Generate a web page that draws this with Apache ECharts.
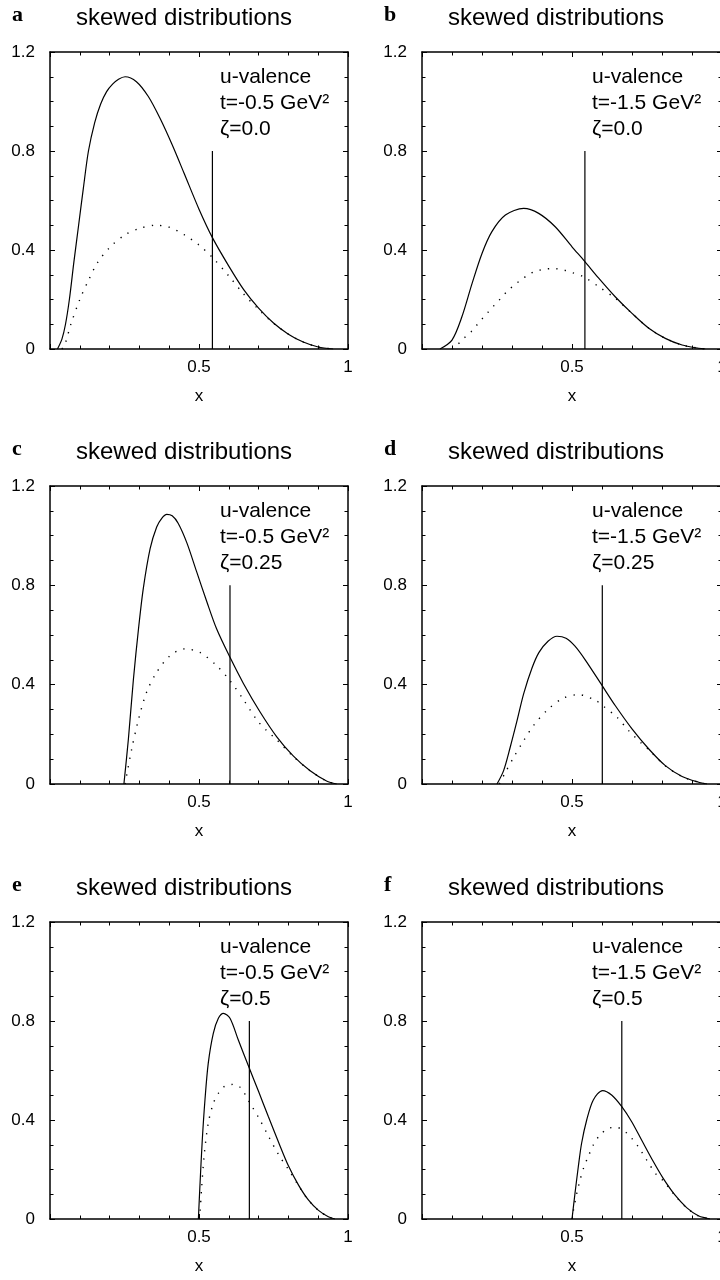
<!DOCTYPE html>
<html><head><meta charset="utf-8">
<script src="https://cdn.jsdelivr.net/npm/echarts@6/dist/echarts.min.js"></script>
<style>html,body{margin:0;padding:0;background:#fff}#c{width:720px;height:1280px}</style>
</head><body><div id="c"></div>
<script>
// ---------- data ----------
const panelLetters = ['a', 'b', 'c', 'd', 'e', 'f'];
const titleText = 'skewed distributions';
const flavourText = 'u-valence';
const tValues = ['-0.5', '-1.5', '-0.5', '-1.5', '-0.5', '-1.5'];
const zetaValues = ['0.0', '0.0', '0.25', '0.25', '0.5', '0.5'];
const xTickLabels = ['0.5', '1'];
const yTickLabels = ['0', '0.4', '0.8', '1.2'];
const xAxisName = 'x';
const vLineX = [0.545, 0.543, 0.604, 0.601, 0.669, 0.666];
const vLineTop = 0.8;

const aSolid = [[0.025,0],[0.04,0.04],[0.052,0.1],[0.065,0.2],[0.08,0.35],[0.096,0.5],[0.112,0.65],[0.129,0.8],[0.15,0.915],[0.17,0.99],[0.19,1.04],[0.21,1.07],[0.23,1.09],[0.252,1.10],[0.29,1.08],[0.33,1.02],[0.37,0.93],[0.41,0.825],[0.45,0.71],[0.5,0.565],[0.545,0.45],[0.6,0.335],[0.65,0.24],[0.7,0.165],[0.75,0.105],[0.8,0.06],[0.85,0.028],[0.9,0.008],[0.95,0]];
const aDotted = [[0.04,0],[0.05,0.018],[0.07,0.1],[0.1,0.2],[0.13,0.28],[0.16,0.35],[0.2,0.41],[0.25,0.46],[0.3,0.487],[0.355,0.5],[0.4,0.492],[0.45,0.462],[0.5,0.42],[0.545,0.37],[0.6,0.295],[0.65,0.222],[0.7,0.16],[0.75,0.104],[0.8,0.06],[0.85,0.028],[0.9,0.008],[0.95,0]];

const bSolid = [[0.06,0],[0.1,0.036],[0.133,0.13],[0.167,0.265],[0.2,0.386],[0.233,0.474],[0.278,0.541],[0.339,0.568],[0.389,0.548],[0.444,0.494],[0.5,0.413],[0.541,0.356],[0.589,0.286],[0.644,0.211],[0.7,0.144],[0.756,0.084],[0.811,0.043],[0.867,0.016],[0.922,0.003],[0.944,0]];
const bDotted = [[0.1,0],[0.117,0.016],[0.139,0.043],[0.164,0.07],[0.183,0.097],[0.202,0.124],[0.222,0.151],[0.242,0.178],[0.263,0.205],[0.283,0.232],[0.306,0.257],[0.33,0.279],[0.353,0.299],[0.378,0.314],[0.411,0.323],[0.441,0.325],[0.472,0.319],[0.5,0.309],[0.541,0.29],[0.589,0.252],[0.644,0.205],[0.7,0.144],[0.756,0.084],[0.811,0.043],[0.867,0.016],[0.922,0.003],[0.944,0]];

const cSolid = [[0.248,0],[0.263,0.18],[0.28,0.423],[0.297,0.625],[0.313,0.787],[0.336,0.948],[0.358,1.035],[0.375,1.07],[0.392,1.086],[0.41,1.08],[0.43,1.05],[0.459,0.972],[0.492,0.855],[0.526,0.735],[0.559,0.625],[0.604,0.51],[0.649,0.405],[0.705,0.29],[0.761,0.19],[0.817,0.112],[0.873,0.053],[0.928,0.012],[0.962,0]];
const cDotted = [[0.252,0],[0.255,0.02],[0.274,0.14],[0.297,0.26],[0.324,0.369],[0.358,0.45],[0.403,0.517],[0.453,0.544],[0.503,0.53],[0.559,0.477],[0.604,0.416],[0.649,0.34],[0.694,0.258],[0.727,0.215],[0.761,0.178],[0.817,0.11],[0.873,0.053],[0.928,0.012],[0.962,0]];

const dSolid = [[0.25,0],[0.272,0.054],[0.294,0.148],[0.317,0.256],[0.339,0.364],[0.367,0.468],[0.39,0.53],[0.42,0.575],[0.45,0.595],[0.48,0.587],[0.51,0.555],[0.544,0.5],[0.6,0.397],[0.644,0.316],[0.7,0.222],[0.756,0.141],[0.811,0.074],[0.867,0.03],[0.922,0.007],[0.95,0]];
const dDotted = [[0.258,0],[0.261,0.007],[0.278,0.047],[0.306,0.108],[0.339,0.175],[0.372,0.236],[0.422,0.303],[0.472,0.346],[0.522,0.36],[0.578,0.337],[0.606,0.312],[0.65,0.269],[0.689,0.215],[0.733,0.162],[0.756,0.138],[0.811,0.073],[0.867,0.03],[0.922,0.007],[0.95,0]];

const eSolid = [[0.498,0],[0.503,0.131],[0.511,0.319],[0.52,0.481],[0.531,0.629],[0.548,0.75],[0.565,0.811],[0.582,0.831],[0.604,0.811],[0.632,0.723],[0.669,0.609],[0.7,0.515],[0.733,0.413],[0.767,0.31],[0.8,0.215],[0.834,0.137],[0.867,0.077],[0.9,0.036],[0.934,0.009],[0.956,0]];
const eDotted = [[0.5,0],[0.503,0.02],[0.509,0.13],[0.518,0.265],[0.531,0.387],[0.548,0.467],[0.565,0.508],[0.587,0.537],[0.615,0.544],[0.64,0.53],[0.669,0.472],[0.7,0.41],[0.733,0.335],[0.767,0.26],[0.8,0.2],[0.834,0.135],[0.867,0.076],[0.9,0.036],[0.934,0.009],[0.956,0]];

const fSolid = [[0.5,0],[0.51,0.104],[0.521,0.211],[0.532,0.306],[0.549,0.4],[0.571,0.481],[0.602,0.519],[0.632,0.501],[0.666,0.454],[0.699,0.393],[0.732,0.319],[0.771,0.232],[0.804,0.164],[0.843,0.097],[0.882,0.046],[0.921,0.013],[0.949,0.003],[0.96,0]];
const fDotted = [[0.5,0],[0.504,0.03],[0.516,0.104],[0.527,0.158],[0.54,0.211],[0.554,0.252],[0.571,0.299],[0.593,0.339],[0.621,0.366],[0.649,0.37],[0.677,0.353],[0.699,0.326],[0.721,0.292],[0.749,0.238],[0.782,0.178],[0.804,0.155],[0.843,0.095],[0.882,0.045],[0.921,0.013],[0.949,0.003],[0.96,0]];

const solidSeries = [aSolid, bSolid, cSolid, dSolid, eSolid, fSolid];
const dottedSeries = [aDotted, bDotted, cDotted, dDotted, eDotted, fDotted];

// ---------- layout ----------
const colLeft = [50, 422];
const colWidth = [298, 300];
const rowTop = [52, 486, 922];
const rowHeight = [297, 298, 297];
const FONT = '"Liberation Sans", Arial, Helvetica, sans-serif';

const grids = [], xAxes = [], yAxes = [], series = [], graphics = [];

const axisLineStyle = { show: true, onZero: false, lineStyle: { color: '#000', width: 1.5 } };

for (let i = 0; i < 6; i++) {
  const col = i % 2, row = Math.floor(i / 2);
  const L = colLeft[col], W = colWidth[col], T = rowTop[row], H = rowHeight[row];
  grids.push({ left: L, top: T, width: W, height: H, containLabel: false, outerBoundsMode: 'none' });

  const xBase = {
    type: 'value', min: 0, max: 1, interval: 0.5, gridIndex: i,
    axisLine: axisLineStyle,
    axisTick: { show: true, inside: true, length: 5, lineStyle: { color: '#000', width: 1 } },
    minorTick: { show: true, splitNumber: 5, length: 3.5, lineStyle: { color: '#000', width: 1 } },
    splitLine: { show: false }, minorSplitLine: { show: false }
  };
  xAxes.push(Object.assign({}, xBase, {
    position: 'bottom',
    name: xAxisName, nameLocation: 'middle', nameGap: 39,
    nameTextStyle: { color: '#000', fontSize: 17, fontFamily: FONT },
    axisLabel: {
      show: true, margin: 10, color: '#000', fontSize: 17, fontFamily: FONT,
      showMinLabel: true, showMaxLabel: true,
      formatter: v => xTickLabels.includes(String(v)) ? String(v) : ''
    }
  }));
  xAxes.push(Object.assign({}, xBase, { position: 'top', axisLabel: { show: false } }));

  const yBase = {
    type: 'value', min: 0, max: 1.2, interval: 0.4, gridIndex: i,
    axisLine: axisLineStyle,
    axisTick: { show: true, inside: true, length: 5, lineStyle: { color: '#000', width: 1 } },
    minorTick: { show: true, splitNumber: 4, length: 3.5, lineStyle: { color: '#000', width: 1 } },
    splitLine: { show: false }, minorSplitLine: { show: false }
  };
  yAxes.push(Object.assign({}, yBase, {
    position: 'left',
    axisLabel: {
      show: true, margin: 15, color: '#000', fontSize: 17, fontFamily: FONT,
      showMinLabel: true, showMaxLabel: true,
      formatter: v => yTickLabels.includes(String(v)) ? String(v) : ''
    }
  }));
  yAxes.push(Object.assign({}, yBase, { position: 'right', axisLabel: { show: false } }));

  series.push({
    type: 'line', xAxisIndex: 2 * i, yAxisIndex: 2 * i, data: solidSeries[i],
    showSymbol: false, symbol: 'none', smooth: 0.3, clip: true,
    lineStyle: { color: '#000', width: 1.2 }
  });
  series.push({
    type: 'line', xAxisIndex: 2 * i, yAxisIndex: 2 * i, data: dottedSeries[i],
    showSymbol: false, symbol: 'none', smooth: 0.3, clip: true,
    lineStyle: { color: '#000', width: 1.4, type: [1.3, 7.2], cap: 'butt' }
  });
  series.push({
    type: 'line', xAxisIndex: 2 * i, yAxisIndex: 2 * i,
    data: [[vLineX[i], 0], [vLineX[i], vLineTop]],
    showSymbol: false, symbol: 'none', lineStyle: { color: '#000', width: 1.2 }
  });

  graphics.push({
    type: 'text', x: L - 38, y: T - 37,
    style: { text: panelLetters[i], fill: '#000', fontSize: 22, fontWeight: 'bold',
             fontFamily: '"Liberation Serif", "DejaVu Serif", serif', verticalAlign: 'middle' }
  });
  graphics.push({
    type: 'text', x: L + 26, y: T - 34,
    style: { text: titleText, fill: '#000', fontSize: 24, fontFamily: FONT, verticalAlign: 'middle' }
  });
  graphics.push({
    type: 'text', x: L + 170, y: T + 12,
    style: {
      text: flavourText + '\nt=' + tValues[i] + ' GeV\u00B2\n\u03B6=' + zetaValues[i],
      fill: '#000', fontSize: 21, fontFamily: FONT, lineHeight: 26, verticalAlign: 'top'
    }
  });
}

const chart = echarts.init(document.getElementById('c'), null, { renderer: 'canvas' });
chart.setOption({
  animation: false,
  backgroundColor: '#fff',
  grid: grids, xAxis: xAxes, yAxis: yAxes, series: series, graphic: graphics
});
</script>
</body></html>
